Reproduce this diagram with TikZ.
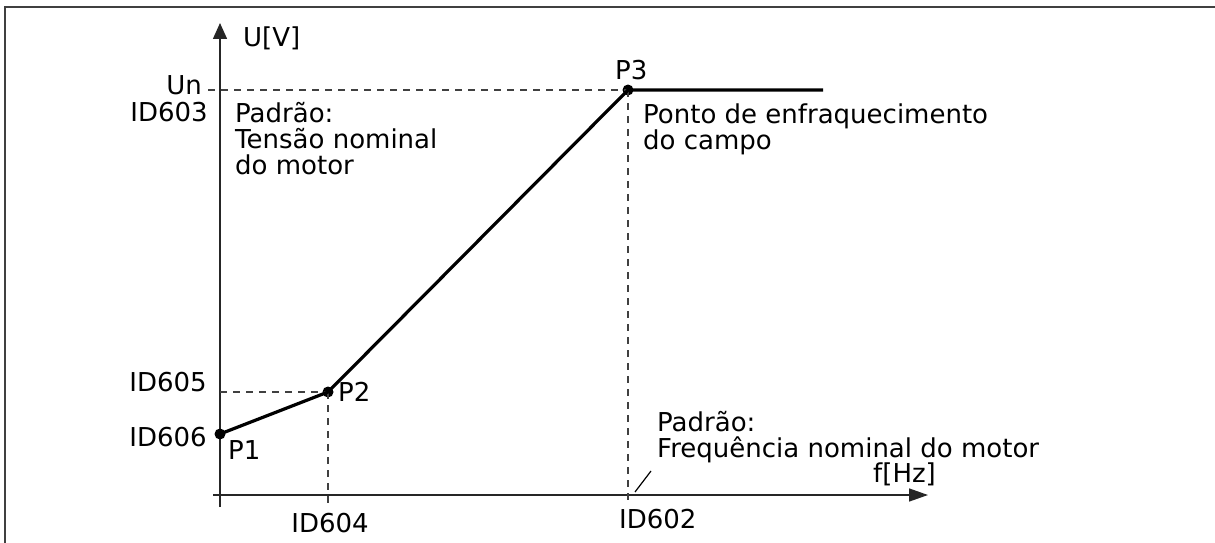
\documentclass[tikz,border=0pt]{standalone}
\usepackage{fontspec}
\setmainfont{DejaVu Sans}
\usetikzlibrary{arrows.meta}
\tikzset{
  lbl/.style={inner sep=0pt, font=\fontsize{26}{26}\selectfont},
  axisline/.style={line width=1.5pt, black!85},
  guide/.style={line width=1.5pt, black!75, dash pattern=on 7pt off 6pt},
  curve/.style={line width=3.2pt, black},
  dot/.style={circle, fill=black, inner sep=0pt, minimum size=11pt},
  frame/.style={line width=2.5pt, black!75}
}
\begin{document}
\begin{tikzpicture}[x=1pt,y=-1pt]
\useasboundingbox (0,0) rectangle (1215,543);
% frame
\coordinate (fTR) at (1215,7);
\coordinate (fTL) at (5,7);
\coordinate (fBL) at (5,543);
\draw[frame] (fTR) -- (fTL) -- (fBL);
% axes
\coordinate (yB) at (220,507);
\coordinate (yT) at (220,23);
\coordinate (xL) at (213,495);
\coordinate (xR) at (928,495);
\draw[axisline,-{Triangle[length=16pt,width=14pt]}] (yB) -- (yT);
\draw[axisline,-{Triangle[length=19pt,width=13pt]}] (xL) -- (xR);
% points
\node[dot] (P1) at (220,434) {};
\node[dot] (P2) at (328,392) {};
\node[dot] (P3) at (628,90) {};
\coordinate (Pend) at (823,90);
\coordinate (unL) at (208,90);
\coordinate (id605L) at (220,392);
\coordinate (P2b) at (328,505);
\coordinate (P3b) at (628,505);
% guides
\draw[guide] (unL) -- (P3.center);
\draw[guide] (id605L) -- (P2.center);
\draw[guide] (P2.center) -- (P2b);
\draw[guide] (P3.center) -- (P3b);
% curve
\draw[curve,line join=round] (P1.center) -- (P2.center) -- (P3.center) -- (Pend);
% leader
\coordinate (ldA) at (635,492);
\coordinate (ldB) at (651,471);
\draw[line width=1.2pt] (ldA) -- (ldB);
% labels
\node[lbl,anchor=base west] (uv) at (243,47) {U[V]};
\node[lbl,anchor=base east] (un) at (202,95) {Un};
\node[lbl,anchor=base east] (id603) at (208,121) {ID603};
\node[lbl,anchor=base west] (padrao1) at (235,122) {\vtop{\hbox{Padrão:}\hbox{Tensão nominal}\hbox{do motor}}};
\node[lbl,anchor=base west] (p3l) at (615,79) {P3};
\node[lbl,anchor=base west] (ponto) at (643,123) {\vtop{\hbox{Ponto de enfraquecimento}\hbox{do campo}}};
\node[lbl,anchor=base east] (id605) at (207,391) {ID605};
\node[lbl,anchor=base east] (id606) at (207,446) {ID606};
\node[lbl,anchor=base west] (p1l) at (228,459) {P1};
\node[lbl,anchor=base west] (p2l) at (338,401) {P2};
\node[lbl,anchor=base] (id604) at (330,532) {ID604};
\node[lbl,anchor=base west] (id602) at (619,528) {ID602};
\node[lbl,anchor=base west] (padrao2) at (657,431) {\vtop{\hbox{Padrão:}\hbox{Frequência nominal do motor}}};
\node[lbl,anchor=base west] (fhz) at (873,482) {f[Hz]};
\end{tikzpicture}
\end{document}
